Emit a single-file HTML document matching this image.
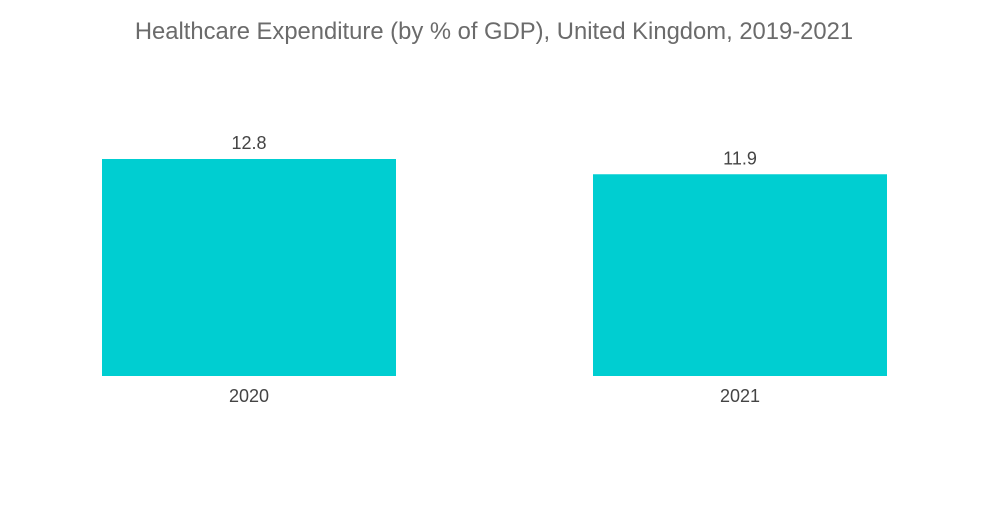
<!DOCTYPE html>
<html><head><meta charset="utf-8"><style>
html,body{margin:0;padding:0;background:#fff;}
body{width:1000px;height:504px;overflow:hidden;font-family:"Liberation Sans",sans-serif;}
</style></head><body>
<svg width="1000" height="504">
<text x="494" y="39" text-anchor="middle" font-size="23.8" fill="#6b6b6b">Healthcare Expenditure (by % of GDP), United Kingdom, 2019-2021</text>
<g id="bars"></g>
</svg>
<script>
const categories = ["2020", "2021"];
const values = [12.8, 11.9];
const baseY = 376, pxPerUnit = 217/12.8;
const barLeft = [102, 593], barW = 294;
function y(v){ return baseY - v*pxPerUnit; }
const g = document.getElementById('bars');
const NS = "http://www.w3.org/2000/svg";
categories.forEach((c,i)=>{
  const r = document.createElementNS(NS,'rect');
  r.setAttribute('x', barLeft[i]); r.setAttribute('y', y(values[i]));
  r.setAttribute('width', barW); r.setAttribute('height', baseY - y(values[i]));
  r.setAttribute('fill', '#00CED1');
  
  
  g.appendChild(r);
  const t = document.createElementNS(NS,'text');
  t.setAttribute('x', barLeft[i] + barW/2); t.setAttribute('y', y(values[i]) - 10);
  t.setAttribute('text-anchor','middle'); t.setAttribute('font-size','18'); t.setAttribute('fill','#444');
  t.textContent = values[i].toFixed(1);
  
  
  g.appendChild(t);
  const l = document.createElementNS(NS,'text');
  l.setAttribute('x', barLeft[i] + barW/2); l.setAttribute('y', 402);
  l.setAttribute('text-anchor','middle'); l.setAttribute('font-size','18'); l.setAttribute('fill','#444');
  l.textContent = c;
  
  
  g.appendChild(l);
});
</script>
</body></html>
